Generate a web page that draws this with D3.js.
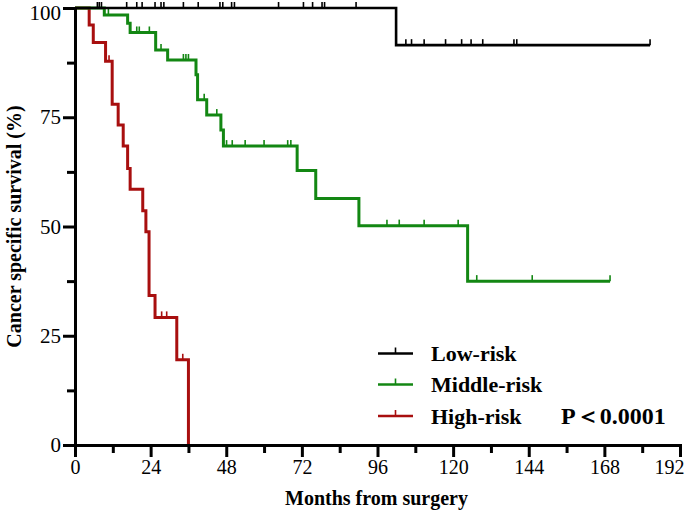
<!DOCTYPE html>
<html>
<head>
<meta charset="utf-8">
<script src="https://cdn.jsdelivr.net/npm/d3@7"></script>
<style>
  html, body { margin: 0; padding: 0; background: #fff; }
  svg { display: block; }
</style>
</head>
<body>
<script>
// ---------- DATA ----------
const seriesNames = ["Low-risk", "Middle-risk", "High-risk"];
const seriesColors = ["#000000", "#138713", "#a80f0f"];

const lowTimes = [101.9];
const lowSurv = [91.5];
const lowEnd = 182.5;
const lowCensor = [7.1, 7.7, 8.4, 16.4, 19.6, 21.3, 25.4, 27.3, 28.2, 34.4, 39.1, 46.0, 46.9, 49.7, 50.6,
                   64.6, 72.5, 75.4, 78.4, 79.2, 89.2, 105.0, 106.8, 110.8, 117.6, 122.7, 125.7, 129.4,
                   139.3, 140.2, 182.5];

const midTimes = [9.3, 16.7, 17.5, 25.6, 29.4, 38.4, 38.9, 41.8, 46.3, 47.1, 70.5, 76.4, 90.1, 124.6];
const midSurv = [98.4, 96.5, 94.4, 90.4, 88.1, 84.7, 79.0, 75.5, 72.1, 68.4, 62.8, 56.4, 50.2, 37.5];
const midEnd = 169.8;
const midCensor = [10.6, 19.6, 20.4, 23.6, 27.3, 34.4, 35.2, 36.0, 41.0, 45.0, 48.1, 49.9, 54.0, 60.0,
                   67.5, 68.5, 99.0, 102.9, 110.8, 121.6, 127.5, 145.1, 169.8];

const highTimes = [4.5, 5.8, 9.7, 11.8, 13.7, 15.3, 16.7, 17.5, 21.5, 22.5, 23.5, 25.4, 32.3, 36.0];
const highSurv = [96.1, 92.1, 87.8, 78.0, 73.2, 68.4, 63.3, 58.5, 53.6, 48.8, 34.2, 29.2, 19.5, 0];
const highEnd = 36.0;
const highCensor = [10.8, 27.5, 29.1, 34.2];

const xTicks = [0, 24, 48, 72, 96, 120, 144, 168, 192];
const xMinorTicks = [12, 36, 60, 84, 108, 132, 156, 180];
const yTicks = [0, 25, 50, 75, 100];
const yMinorTicks = [12.5, 37.5, 62.5, 87.5];

const xTitle = "Months from surgery";
const yTitle = "Cancer specific survival (%)";
const pText = "P\uFF1C0.0001";

// ---------- LAYOUT ----------
const W = 685, H = 516;
const mLeft = 75, mRight = 680, mTop = 8, mBottom = 445;

const svg = d3.select("body").append("svg").attr("width", W).attr("height", H)
  .attr("font-family", "Liberation Serif, Times New Roman, serif");

const x = d3.scaleLinear().domain([0, 192]).range([mLeft, mRight]);
const y = d3.scaleLinear().domain([0, 100]).range([mBottom, mTop]);

function stepPoints(times, surv, end) {
  const pts = [[0, 100]];
  let cur = 100;
  times.forEach((t, i) => { pts.push([t, cur]); cur = surv[i]; pts.push([t, cur]); });
  if (end > pts[pts.length - 1][0]) pts.push([end, cur]);
  return pts;
}
function survAt(times, surv, t) {
  let s = 100;
  times.forEach((tt, i) => { if (tt <= t) s = surv[i]; });
  return s;
}

const series = [
  { times: lowTimes, surv: lowSurv, end: lowEnd, censor: lowCensor, width: 2.6 },
  { times: midTimes, surv: midSurv, end: midEnd, censor: midCensor, width: 3 },
  { times: highTimes, surv: highSurv, end: highEnd, censor: highCensor, width: 3 }
];

const line = d3.line().x(d => x(d[0])).y(d => y(d[1]));

[2, 1, 0].forEach(k => {
  const s = series[k];
  const g = svg.append("g");
  g.append("path")
    .attr("d", line(stepPoints(s.times, s.surv, s.end)))
    .attr("fill", "none").attr("stroke", seriesColors[k]).attr("stroke-width", s.width);
  g.selectAll("line.censor").data(s.censor).enter().append("line")
    .attr("class", "censor")
    .attr("x1", d => x(d)).attr("x2", d => x(d))
    .attr("y1", d => y(survAt(s.times, s.surv, d)))
    .attr("y2", d => y(survAt(s.times, s.surv, d)) - 6)
    .attr("stroke", seriesColors[k]).attr("stroke-width", 1.6);
});

const xAxis = svg.append("g").attr("transform", `translate(0,${mBottom})`)
  .call(d3.axisBottom(x).tickValues(xTicks).tickSize(12).tickSizeOuter(0).tickPadding(3).tickFormat(d3.format("d")));
const xMinor = svg.append("g").attr("transform", `translate(0,${mBottom})`)
  .call(d3.axisBottom(x).tickValues(xMinorTicks).tickSize(8).tickSizeOuter(0).tickFormat(""));
xMinor.select(".domain").remove();
const yAxis = svg.append("g").attr("transform", `translate(${mLeft},0)`)
  .call(d3.axisLeft(y).tickValues(yTicks).tickSize(12).tickSizeOuter(0).tickPadding(2).tickFormat(d3.format("d")));
const yMinor = svg.append("g").attr("transform", `translate(${mLeft},0)`)
  .call(d3.axisLeft(y).tickValues(yMinorTicks).tickSize(8).tickSizeOuter(0).tickFormat(""));
yMinor.select(".domain").remove();

[xAxis, xMinor, yAxis, yMinor].forEach(g => {
  g.attr("font-family", null).attr("font-size", 20);
  g.selectAll(".domain").attr("stroke", "#000").attr("stroke-width", 3).attr("stroke-linecap", "square");
  g.selectAll(".tick line").attr("stroke", "#000").attr("stroke-width", 3);
  g.selectAll(".tick text").attr("fill", "#000");
});
yAxis.attr("font-size", 21);
// keep the edge labels inside the frame
xAxis.selectAll(".tick text").filter(d => d === 192).attr("text-anchor", "end").attr("x", 4);
yAxis.selectAll(".tick text").filter(d => d === 100).attr("dy", "0.55em");

svg.append("text")
  .attr("x", (mLeft + mRight) / 2 - 1).attr("y", 505)
  .attr("text-anchor", "middle")
  .attr("font-weight", "bold").attr("font-size", 20)
  .text(xTitle);

svg.append("text")
  .attr("transform", `translate(21,${(mTop + mBottom) / 2}) rotate(-90)`)
  .attr("text-anchor", "middle")
  .attr("font-weight", "bold").attr("font-size", 20)
  .text(yTitle);

const legY = [353.5, 384.5, 416];
const leg = svg.append("g");
seriesNames.forEach((name, i) => {
  leg.append("line").attr("x1", 378).attr("x2", 413).attr("y1", legY[i]).attr("y2", legY[i])
    .attr("stroke", seriesColors[i]).attr("stroke-width", 2.6);
  leg.append("line").attr("x1", 395.5).attr("x2", 395.5).attr("y1", legY[i]).attr("y2", legY[i] - 6)
    .attr("stroke", seriesColors[i]).attr("stroke-width", 1.6);
  leg.append("text").attr("x", 431).attr("y", legY[i] + 7.5)
    .attr("font-weight", "bold").attr("font-size", 22).text(name);
});
leg.append("text").attr("x", 561).attr("y", legY[2] + 8)
  .attr("font-weight", "bold").attr("font-size", 24).text(pText);
</script>
</body>
</html>
